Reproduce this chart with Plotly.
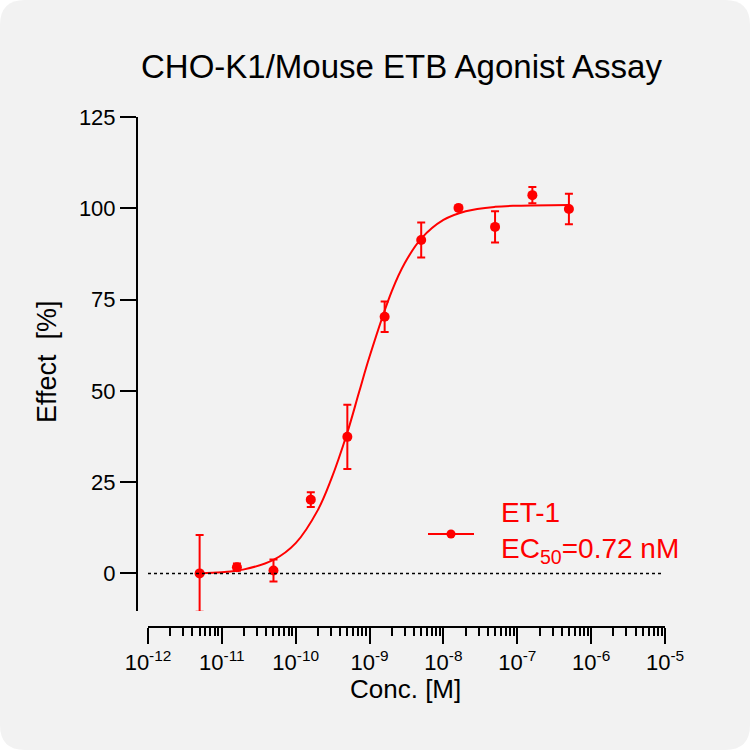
import plotly.graph_objects as go

conc = [5e-12, 1.6e-11, 5e-11, 1.6e-10, 5e-10, 1.6e-9, 5e-9, 1.6e-8, 5e-8, 1.6e-7, 5e-7]
effect = [0.0, 1.7, 0.8, 20.2, 37.4, 70.3, 91.3, 100.1, 94.9, 103.6, 99.8]
effect_err = [10.5, 1.0, 3.0, 2.0, 8.8, 4.2, 4.8, 0.0, 4.3, 2.2, 4.2]

# fitted curve
curve_x = [5e-12, 1e-11, 2e-11, 5e-11, 1e-10, 2e-10, 3e-10, 5e-10, 7.2e-10,
           1e-9, 2e-9, 3e-9, 5e-9, 1e-8, 2e-8, 5e-8, 1e-7, 5e-7]
curve_y = [0.0, 0.3, 1.1, 3.7, 8.3, 17.4, 25.6, 38.6, 49.6,
           59.4, 77.3, 85.0, 91.7, 96.8, 99.2, 100.4, 100.7, 100.9]

x_tickvals = [1e-12, 1e-11, 1e-10, 1e-9, 1e-8, 1e-7, 1e-6, 1e-5]
x_ticktext = ['10<sup>-12</sup>', '10<sup>-11</sup>', '10<sup>-10</sup>', '10<sup>-9</sup>',
              '10<sup>-8</sup>', '10<sup>-7</sup>', '10<sup>-6</sup>', '10<sup>-5</sup>']
y_tickvals = [0, 25, 50, 75, 100, 125]

legend_text = 'ET-1<br>EC<sub>50</sub>=0.72 nM'

RED = '#ff0000'
FONT = 'Arial, Liberation Sans, sans-serif'

# plot area in pixels (used to place things outside it in paper units)
L, R, T, B = 137, 665, 117, 627
W, H = R - L, B - T


def px(x):
    return (x - L) / W


def py(y):
    return (B - y) / H


fig = go.Figure()

fig.add_trace(go.Scatter(
    x=curve_x, y=curve_y, mode='lines', line=dict(color=RED, width=2, shape='spline'),
    showlegend=False, hoverinfo='skip'))

fig.add_trace(go.Scatter(
    x=conc, y=effect, mode='markers',
    marker=dict(color=RED, size=10),
    error_y=dict(type='data', array=effect_err, color=RED, thickness=2, width=4),
    showlegend=False))

# rounded card background
r = 25
x0, x1, y0, y1 = 0, 750, 0, 750
path = (f'M {px(x0 + r)},{py(y0)} L {px(x1 - r)},{py(y0)} '
        f'Q {px(x1)},{py(y0)} {px(x1)},{py(y0 + r)} L {px(x1)},{py(y1 - r)} '
        f'Q {px(x1)},{py(y1)} {px(x1 - r)},{py(y1)} L {px(x0 + r)},{py(y1)} '
        f'Q {px(x0)},{py(y1)} {px(x0)},{py(y1 - r)} L {px(x0)},{py(y0 + r)} '
        f'Q {px(x0)},{py(y0)} {px(x0 + r)},{py(y0)} Z')
fig.add_shape(type='path', path=path, xref='paper', yref='paper',
              fillcolor='#f2f2f2', line=dict(width=0), layer='below')

# dotted baseline at zero
fig.add_shape(type='line', xref='x domain', yref='y', x0=0, x1=0.995, y0=0, y1=0,
              line=dict(color='black', width=1.5, dash='dot'))

# legend: line + marker sample and the label
fig.add_shape(type='line', xref='paper', yref='paper',
              x0=px(428), x1=px(474), y0=py(534), y1=py(534),
              line=dict(color=RED, width=2))
fig.add_shape(type='circle', xref='paper', yref='paper',
              xsizemode='pixel', ysizemode='pixel', xanchor=px(451), yanchor=py(534),
              x0=-4.5, x1=4.5, y0=-4.5, y1=4.5,
              fillcolor=RED, line=dict(color=RED, width=0))
fig.add_annotation(text=legend_text, x=px(499), y=py(532), xanchor='left', yanchor='middle',
                   align='left', xref='paper', yref='paper', showarrow=False,
                   font=dict(size=28, color=RED, family=FONT))

fig.add_annotation(text='CHO-K1/Mouse ETB Agonist Assay', x=px(401), y=py(67),
                   xanchor='center', yanchor='middle',
                   xref='paper', yref='paper', showarrow=False,
                   font=dict(size=33, color='black', family=FONT))
fig.add_annotation(text='Effect\u00a0\u00a0[%]', x=px(47), y=py(362), textangle=-90,
                   xanchor='center', yanchor='middle',
                   xref='paper', yref='paper', showarrow=False,
                   font=dict(size=27, color='black', family=FONT))
fig.add_annotation(text='Conc.\u00a0[M]', x=px(405), y=py(689),
                   xanchor='center', yanchor='middle',
                   xref='paper', yref='paper', showarrow=False,
                   font=dict(size=26, color='black', family=FONT))

fig.update_layout(
    width=750, height=750,
    margin=dict(l=L, r=750 - R, t=T, b=750 - B),
    paper_bgcolor='white', plot_bgcolor='rgba(0,0,0,0)',
    font=dict(family=FONT, color='black'),
    showlegend=False,
    xaxis=dict(type='log', range=[-12, -5], domain=[(148 - L) / W, 1],
               anchor='free', position=0,
               tickmode='array', tickvals=x_tickvals, ticktext=x_ticktext,
               ticks='outside', ticklen=16, tickwidth=2, tickcolor='black',
               minor=dict(dtick='D1', ticks='outside', ticklen=8, tickwidth=1.5,
                          tickcolor='black', showgrid=False),
               showline=True, linewidth=2, linecolor='black',
               showgrid=False, zeroline=False,
               tickfont=dict(size=22, family=FONT)),
    yaxis=dict(range=[-10.3, 125], domain=[(B - 611) / H, 1],
               anchor='free', position=0,
               tickmode='array', tickvals=y_tickvals,
               ticks='outside', ticklen=16, tickwidth=2, tickcolor='black',
               showline=True, linewidth=2, linecolor='black',
               showgrid=False, zeroline=False,
               tickfont=dict(size=22, family=FONT)),
)

fig.write_html('out.html', config={'displayModeBar': False},
               post_script="document.body.style.margin='0';")
